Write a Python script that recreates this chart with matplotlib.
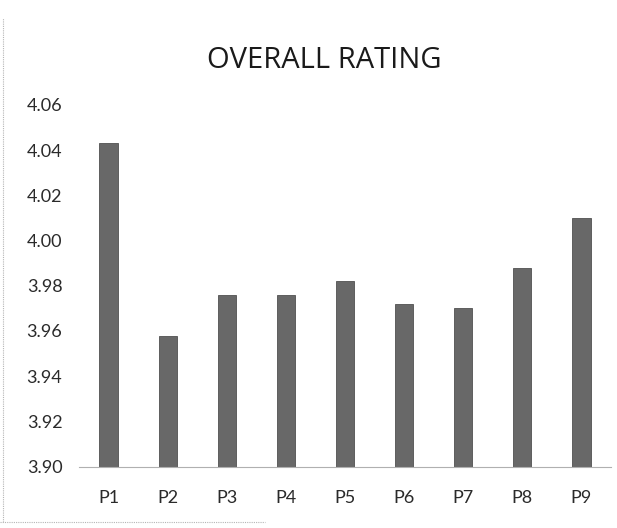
import matplotlib
matplotlib.use("Agg")
import matplotlib.pyplot as plt
from matplotlib.lines import Line2D

categories = ["P1", "P2", "P3", "P4", "P5", "P6", "P7", "P8", "P9"]
ratings = [4.043, 3.958, 3.976, 3.976, 3.982, 3.972, 3.970, 3.988, 4.010]
yticks = [3.90, 3.92, 3.94, 3.96, 3.98, 4.00, 4.02, 4.04, 4.06]
title = "OVERALL RATING"

plt.rcParams['font.family'] = ['Lato', 'DejaVu Sans']

fig = plt.figure(figsize=(6.17, 5.28), dpi=100)
ax = fig.add_axes([79/617, 1 - 466.7/528, (611 - 79)/617, (466.7 - 104.8)/528])

x = list(range(len(categories)))
ax.bar(x, [v - yticks[0] for v in ratings], bottom=yticks[0], width=0.31,
       color="#686868", edgecolor="#505050", linewidth=0.6)

ax.set_xlim(-0.5, len(categories) - 0.5)
ax.set_ylim(yticks[0], yticks[-1])
ax.set_yticks(yticks)
ax.set_yticklabels([f"{t:.2f}" for t in yticks])
ax.set_xticks(x)
ax.set_xticklabels(categories)

for s in ["top", "right", "left"]:
    ax.spines[s].set_visible(False)
ax.spines["bottom"].set_color("#b0b0b0")
ax.spines["bottom"].set_linestyle((0, (1, 1)))
ax.spines["bottom"].set_linewidth(0.8)

ax.tick_params(axis="y", length=0, pad=12, labelsize=13, labelcolor="#2a2a2a")
ax.tick_params(axis="x", length=0, pad=17, labelsize=13, labelcolor="#2a2a2a")

fig.text(324/617, 1 - 61/528, title, ha="center", va="center",
         fontsize=21, color="#1a1a1a", family=["Open Sans", "DejaVu Sans"])

# chart border remnants (dotted)
fig.add_artist(Line2D([3/617, 3/617], [1 - 522/528, 1 - 18/528],
                      transform=fig.transFigure, color="#b5b5b5",
                      linestyle=(0, (1, 1)), linewidth=0.8))
fig.add_artist(Line2D([0, 265/617], [1 - 522/528, 1 - 522/528],
                      transform=fig.transFigure, color="#b5b5b5",
                      linestyle=(0, (1, 1)), linewidth=0.8))

fig.savefig("out.png", dpi=100)
